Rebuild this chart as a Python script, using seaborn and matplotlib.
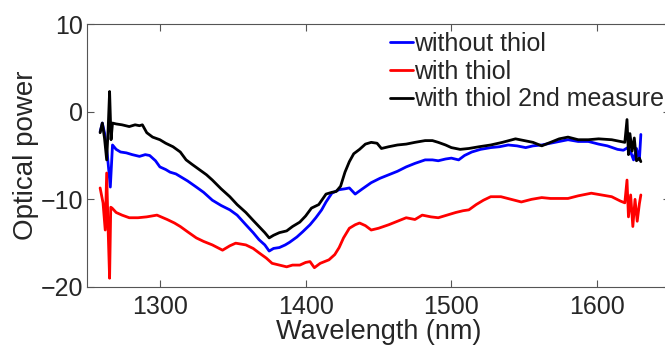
import pandas as pd
import matplotlib
matplotlib.use('Agg')
import matplotlib.pyplot as plt
import seaborn as sns

# Wavelength (nm) / optical power
x_blue = [1259, 1260.5, 1262, 1264, 1266, 1267.5, 1270, 1273, 1277, 1281,
          1286, 1290, 1293, 1297, 1300, 1304, 1307, 1311, 1314, 1319,
          1325, 1330, 1336, 1342, 1348, 1353, 1359, 1364, 1368, 1372,
          1375, 1378, 1382, 1386, 1389, 1394, 1398, 1403, 1407, 1411,
          1414, 1418, 1423, 1427, 1430, 1434, 1439, 1445, 1451, 1457,
          1463, 1469, 1475, 1482, 1487, 1491, 1496, 1500, 1505, 1509,
          1514, 1520, 1527, 1533, 1539, 1545, 1551, 1556, 1562, 1568,
          1574, 1580, 1587, 1594, 1601, 1607, 1614, 1618, 1621, 1623,
          1625, 1627, 1629, 1630]
y_blue = [-2.3, -1.3, -2.4, -5.0, -8.6, -3.8, -4.3, -4.6, -4.7, -4.9,
          -5.1, -4.9, -5.0, -5.6, -6.3, -6.6, -6.9, -7.1, -7.4, -7.9,
          -8.6, -9.2, -10.1, -10.7, -11.2, -11.8, -12.9, -13.8, -14.6, -15.2,
          -15.9, -15.6, -15.5, -15.2, -14.9, -14.3, -13.7, -12.9, -12.1, -11.2,
          -10.3, -9.3, -8.9, -8.8, -8.7, -9.4, -8.8, -8.1, -7.6, -7.2,
          -6.8, -6.3, -5.9, -5.5, -5.5, -5.6, -5.4, -5.3, -5.5, -5.0,
          -4.6, -4.3, -4.1, -4.0, -3.8, -3.9, -4.1, -3.9, -3.8, -3.6,
          -3.4, -3.2, -3.4, -3.4, -3.7, -3.9, -4.3, -4.4, -4.1, -4.6,
          -5.5, -4.2, -5.5, -2.6]

x_red = [1259, 1261, 1262.5, 1263.5, 1264.5, 1265.5, 1266.3, 1267.2, 1270, 1274,
         1279, 1285, 1291, 1298, 1305, 1310, 1314, 1319, 1325, 1330,
         1336, 1343, 1348, 1352, 1359, 1364, 1368, 1373, 1377, 1382,
         1387, 1391, 1396, 1400, 1403, 1406, 1410, 1416, 1420, 1423,
         1426, 1430, 1434, 1437, 1441, 1445, 1450, 1457, 1463, 1469,
         1475, 1480, 1486, 1491, 1497, 1503, 1508, 1512, 1517, 1522,
         1527, 1534, 1541, 1548, 1555, 1562, 1568, 1574, 1580, 1587,
         1596, 1603, 1610, 1616, 1619, 1620.5, 1621.5, 1623, 1624.5, 1626,
         1627.5, 1629, 1630]
y_red = [-8.7, -10.4, -13.5, -7.0, -13.5, -19.0, -10.9, -11.0, -11.5, -11.8,
         -12.1, -12.1, -12.0, -11.8, -12.3, -12.7, -13.1, -13.7, -14.4, -14.8,
         -15.2, -15.8, -15.3, -15.0, -15.2, -15.6, -16.1, -16.7, -17.3, -17.5,
         -17.7, -17.5, -17.5, -17.2, -17.1, -17.8, -17.3, -16.9, -16.3, -15.5,
         -14.4, -13.3, -12.9, -12.7, -13.0, -13.5, -13.3, -12.9, -12.5, -12.1,
         -12.3, -11.8, -12.0, -12.1, -11.8, -11.5, -11.3, -11.2, -10.6, -10.1,
         -9.7, -9.7, -10.0, -10.3, -10.0, -9.8, -9.9, -9.9, -9.9, -9.6,
         -9.3, -9.5, -9.7, -10.2, -10.4, -7.8, -12.0, -9.5, -13.1, -10.0,
         -12.5, -10.5, -9.5]

x_black = [1259, 1260.5, 1262, 1263.5, 1264.5, 1265.5, 1266.5, 1267.5, 1270, 1274,
           1279, 1283, 1286, 1288, 1291, 1295, 1300, 1304, 1309, 1314,
           1318, 1322, 1327, 1332, 1336, 1342, 1348, 1353, 1359, 1364,
           1368, 1372, 1375, 1378, 1382, 1387, 1391, 1396, 1400, 1404,
           1409, 1414, 1418, 1421, 1424, 1427, 1430, 1433, 1437, 1441,
           1445, 1449, 1452, 1457, 1463, 1469, 1475, 1482, 1487, 1491,
           1496, 1500, 1506, 1512, 1519, 1527, 1535, 1544, 1550, 1556,
           1562, 1568, 1574, 1580, 1587, 1594, 1601, 1610, 1616, 1619,
           1620.5, 1621.5, 1622.5, 1624, 1625.5, 1627, 1629, 1630]
y_black = [-2.4, -1.3, -3.0, -5.5, -2.0, 2.3, -3.2, -1.3, -1.4, -1.5,
           -1.7, -1.5, -1.6, -1.5, -2.4, -2.9, -3.2, -3.6, -4.0, -4.6,
           -5.5, -6.0, -6.6, -7.2, -7.8, -8.8, -9.7, -10.6, -11.5, -12.4,
           -13.1, -13.8, -14.4, -14.1, -13.8, -13.6, -13.1, -12.6, -11.9, -11.0,
           -10.6, -9.4, -9.2, -9.1, -8.5, -6.9, -5.7, -4.8, -4.3, -3.7,
           -3.5, -3.6, -4.2, -4.0, -3.8, -3.7, -3.5, -3.3, -3.3, -3.5,
           -3.8, -4.1, -4.3, -4.2, -4.0, -3.8, -3.5, -3.1, -3.3, -3.5,
           -3.9, -3.5, -3.1, -2.9, -3.2, -3.2, -3.1, -3.2, -3.4, -3.5,
           -0.9, -4.9, -2.5, -4.5, -3.0, -5.6, -5.3, -5.7]

labels = ['without thiol', 'with thiol', 'with thiol 2nd measure']
colors = ['#0000ff', '#ff0000', '#000000']
x_ticks = [1300, 1400, 1500, 1600]
y_ticks = [-20, -10, 0, 10]

frames = []
for lab, xs, ys in zip(labels, [x_blue, x_red, x_black], [y_blue, y_red, y_black]):
    frames.append(pd.DataFrame({'wavelength': xs, 'power': ys, 'series': lab}))
df = pd.concat(frames, ignore_index=True)

sns.set_style('ticks')
plt.rcParams['font.family'] = ['Liberation Sans', 'DejaVu Sans']

fig = plt.figure(figsize=(6.65, 3.45), dpi=100)
ax = fig.add_axes([87 / 665, 58 / 345, 583 / 665, 263 / 345])

sns.lineplot(data=df, x='wavelength', y='power', hue='series',
             palette=dict(zip(labels, colors)), estimator=None, sort=False,
             linewidth=2.0, ax=ax)

ax.set_xlim(1250, 1650)
ax.set_ylim(-20, 10)
ax.set_xticks(x_ticks)
ax.set_yticks(y_ticks)
ax.tick_params(direction='in', top=True, right=True, length=5, width=0.8,
               color='#555555', labelsize=18)
ax.tick_params(axis='x', pad=6)
ax.tick_params(axis='y', pad=3)
for sp in ax.spines.values():
    sp.set_visible(True)
    sp.set_color('#555555')
    sp.set_linewidth(0.8)

ax.set_xlabel('Wavelength (nm)', fontsize=19.5, labelpad=0)
ax.set_ylabel('Optical power', fontsize=20, labelpad=1)

handles, labs = ax.get_legend_handles_labels()
ax.legend(handles, labs, loc='upper left', bbox_to_anchor=(390 / 665, 1 - 32 / 345),
          bbox_transform=fig.transFigure, frameon=False, fontsize=18,
          borderpad=0, borderaxespad=0, handlelength=0.9, handletextpad=0.05,
          labelspacing=0.15)

fig.savefig('out.png', dpi=100)
